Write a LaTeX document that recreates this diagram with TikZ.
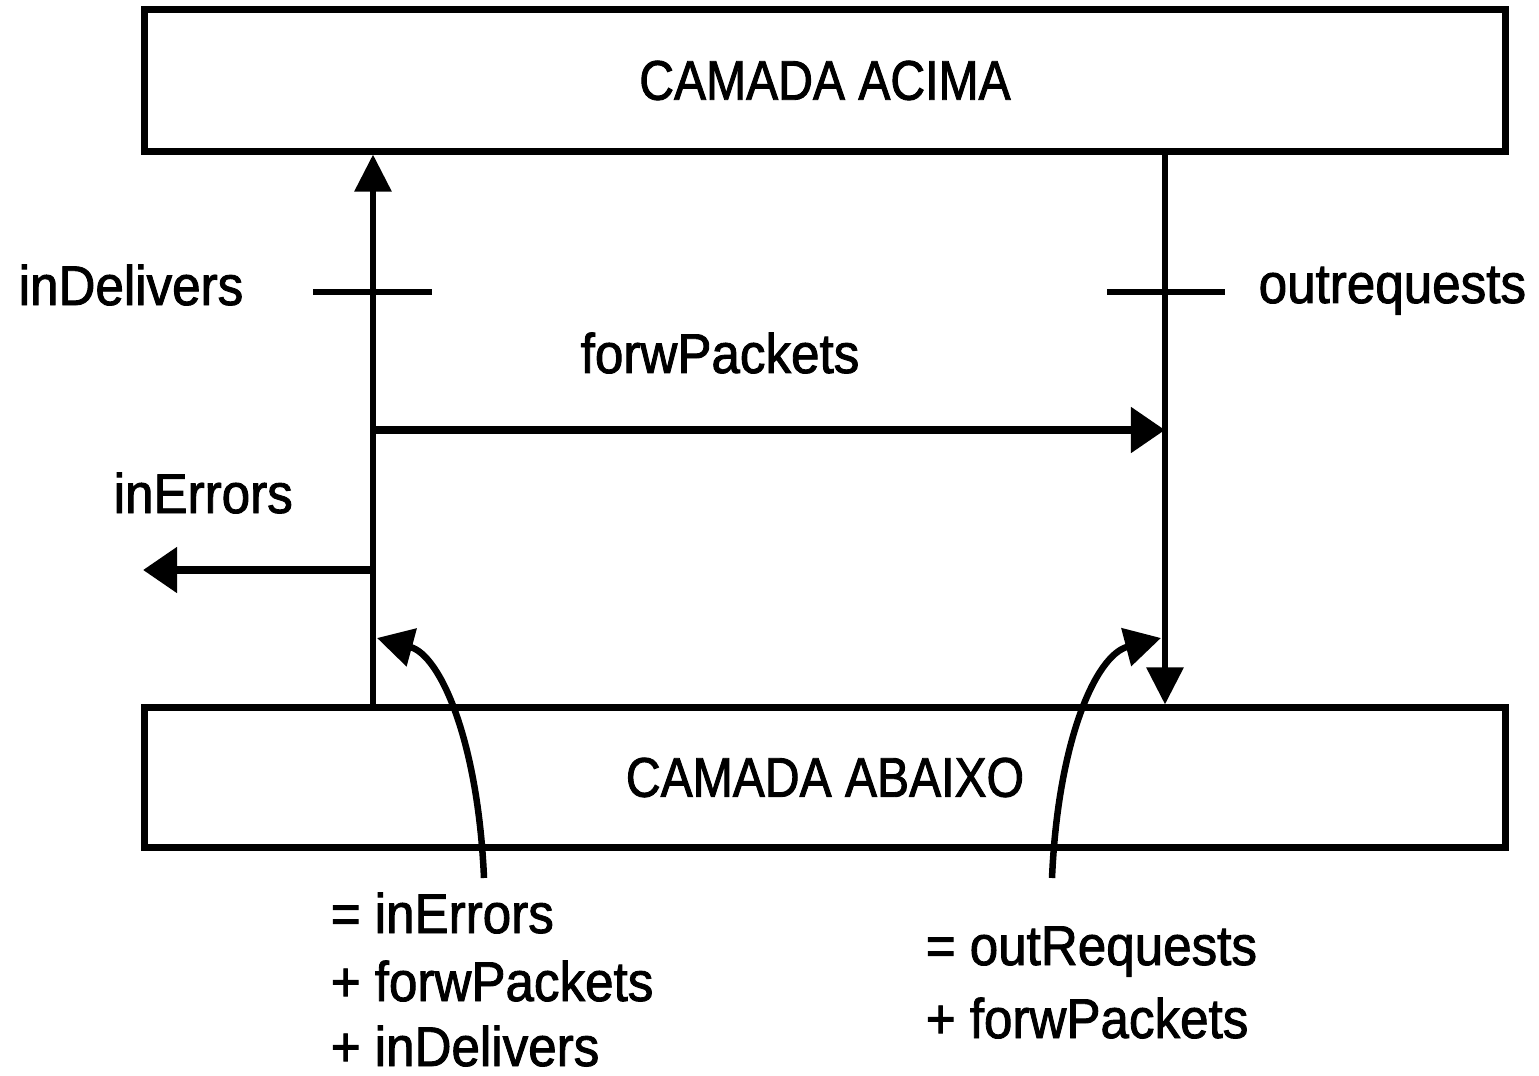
\documentclass[tikz,border=0pt]{standalone}
\usepackage{fontspec}
\setmainfont{Liberation Sans}
\newfontfamily\lblfont[FakeStretch=0.915,FakeBold=1.6]{Liberation Sans}
\newfontfamily\boxfont[FakeStretch=0.86,FakeBold=1.6]{Liberation Sans}
\usetikzlibrary{arrows.meta}
\begin{document}
\begin{tikzpicture}[x=0.01cm,y=-0.01cm,
  box/.style={draw, line width=0.07cm, minimum width=13.6cm, inner sep=0pt,
    font=\boxfont\fontsize{15.9pt}{19pt}\selectfont},
  lbl/.style={anchor=base west, inner sep=0pt, font=\lblfont\fontsize{15.9pt}{19pt}\selectfont},
  vline/.style={line width=0.06cm},
  hline/.style={line width=0.08cm},
  vtip/.style={vline, -{Triangle[length=0.37cm,width=0.36cm]}},
  htip/.style={hline, -{Triangle[length=0.34cm,width=0.44cm]}},
  ctip/.style={line width=0.065cm, -{Triangle[length=0.36cm,width=0.38cm]}},
]
\useasboundingbox[fill=white] (0,0) rectangle (1539,1076);

% boxes
\node[box, minimum height=1.41cm] (top) at (825,80.5) {CAMADA ACIMA};
\node[box, minimum height=1.39cm] (bot) at (825,777.5) {CAMADA ABAIXO};

% reference coordinates
\coordinate (L) at (373,0);
\coordinate (R) at (1165,0);
\coordinate (errend) at (143,570);
\coordinate (tlA) at (313,292);
\coordinate (tlB) at (432,292);
\coordinate (trA) at (1107,292);
\coordinate (trB) at (1225,292);
\coordinate (cls) at (484,878);
\coordinate (cle) at (377,638);
\coordinate (crs) at (1052,878);
\coordinate (cre) at (1161,638);

% main vertical connectors
\draw[vtip] (L |- bot.north) -- (L |- top.south);
\draw[vtip] (R |- top.south) -- (R |- bot.north);

% tick marks
\draw[line width=0.06cm] (tlA) -- (tlB);
\draw[line width=0.06cm] (trA) -- (trB);

% forwPackets arrow
\draw[htip] (L |- 0,430) -- (R |- 0,430);

% inErrors arrow
\draw[htip] (L |- errend) -- (errend);

% curved arrows
\draw[ctip] (cls) .. controls (478,740) and (440,655) .. (cle);
\draw[ctip] (crs) .. controls (1058,740) and (1096,655) .. (cre);

% labels
\node[lbl] (indel) at (18,305) {inDelivers};
\node[lbl] (outreq) at (1258,303) {outrequests};
\node[lbl] (forw) at (580,373) {forwPackets};
\node[lbl] (inerr) at (113,513) {inErrors};

\node[lbl] (eqA1) at (330,933) {= inErrors};
\node[lbl] (eqA2) at (330,1001) {+ forwPackets};
\node[lbl] (eqA3) at (330,1066) {+ inDelivers};

\node[lbl] (eqB1) at (925,965) {= outRequests};
\node[lbl] (eqB2) at (925,1038) {+ forwPackets};
\end{tikzpicture}
\end{document}
